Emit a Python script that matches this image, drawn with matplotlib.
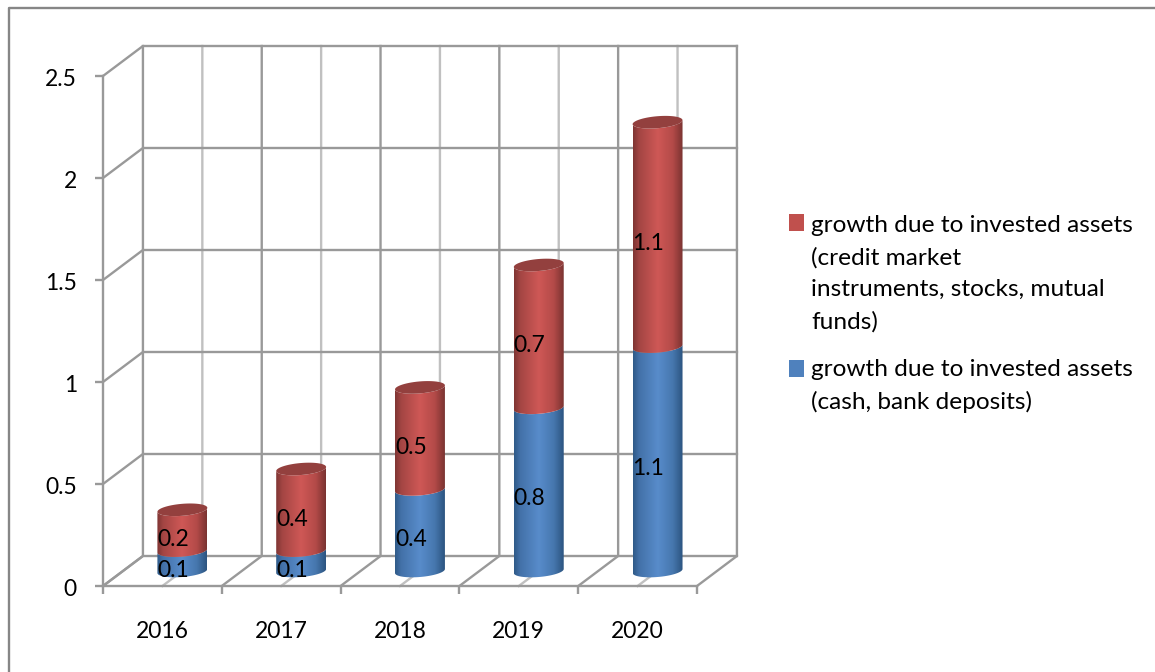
#!/usr/bin/env python
#-*- coding:utf-8 -*-
import numpy as np
from matplotlib import pyplot as plt
from matplotlib.colors import LinearSegmentedColormap
from matplotlib.lines import Line2D
from matplotlib.patches import Patch, PathPatch, Polygon
from matplotlib.path import Path
from matplotlib.transforms import ScaledTranslation

years = ['2016', '2017', '2018', '2019', '2020']
cash_values = [0.1, 0.1, 0.4, 0.8, 1.1]
invested_values = [0.2, 0.4, 0.5, 0.7, 1.1]
value_ticks = [0, 0.5, 1, 1.5, 2, 2.5]
value_tick_labels = ['0', '0.5', '1', '1.5', '2', '2.5']
invested_label = 'growth due to invested assets\n(credit market\ninstruments, stocks, mutual\nfunds)'
cash_label = 'growth due to invested assets\n(cash, bank deposits)'

W, H = 1155, 672
# front plane of the fake 3d box, in pixels
LEFT, RIGHT, BOTTOM, TOP = 103, 697, 586, 76
# how far the back wall is shifted from the front plane, in data units
DEPTH_X = 40.0 / 119
DEPTH_Y = 30.0 / 204
BAR_A = 25.0 / 119
BAR_B = 6.0 / 204
BAR_TILT = 2.0 / 204

WALL = '#999999'
WALL_LIGHT = '#c0c0c0'
FRAME = '#868686'
LW = 1.7
FS = 16.5
LEGEND_FS = 17.6

plt.rcParams['font.family'] = ['Lato', 'DejaVu Sans']


def draw_wall(ax):
    n = len(years)
    top = value_ticks[-1]
    for v in value_ticks:
        # side wall then back wall
        ax.plot([0, DEPTH_X, n + DEPTH_X], [v, v + DEPTH_Y, v + DEPTH_Y],
                color=WALL, lw=LW, zorder=2, clip_on=False)
    for i in range(n):
        mid = i + 0.5
        ax.plot([mid, mid + DEPTH_X, mid + DEPTH_X], [0, DEPTH_Y, top + DEPTH_Y],
                color=WALL_LIGHT, lw=LW, zorder=1, clip_on=False)
    for i in range(n + 1):
        ax.plot([i, i + DEPTH_X, i + DEPTH_X], [0, DEPTH_Y, top + DEPTH_Y],
                color=WALL, lw=LW, zorder=2, clip_on=False)


def arc(xc, yc, start, end):
    t = np.linspace(start, end, 60)
    return np.column_stack([xc + BAR_A * np.cos(t),
                            yc + BAR_B * np.sin(t) + BAR_TILT * np.cos(t)])


def draw_segment(ax, xc, y0, y1, cmap, z):
    lower = arc(xc, y0, np.pi, 2 * np.pi)
    upper = arc(xc, y1, 2 * np.pi, np.pi)
    verts = np.vstack([lower, upper, lower[:1]])
    clip = PathPatch(Path(verts), transform=ax.transData)
    grad = np.linspace(0, 1, 128).reshape(1, -1)
    im = ax.imshow(grad, cmap=cmap, aspect='auto', zorder=z, clip_on=True,
                   extent=[xc - BAR_A, xc + BAR_A, y0 - 2 * BAR_B, y1 + 2 * BAR_B])
    im.set_clip_path(clip)


fig = plt.figure(figsize=(W / 100.0, H / 100.0), dpi=100)
ax = fig.add_axes([LEFT / W, 1 - BOTTOM / H, (RIGHT - LEFT) / W, (BOTTOM - TOP) / H])
ax.patch.set_visible(False)

draw_wall(ax)

blue_map = LinearSegmentedColormap.from_list('blue_side', [
    (0, '#2f5a88'), (0.12, '#4371a8'), (0.5, '#588ccb'), (0.8, '#4677ae'), (1, '#2c5480')])
red_map = LinearSegmentedColormap.from_list('red_side', [
    (0, '#7f3533'), (0.12, '#a34543'), (0.5, '#cf5856'), (0.8, '#b34a48'), (1, '#7a3331')])

for i in range(len(years)):
    xc = i + 0.5 + DEPTH_X / 2
    base = DEPTH_Y / 2
    c = cash_values[i]
    v = invested_values[i]
    draw_segment(ax, xc, base, base + c, blue_map, 3)
    draw_segment(ax, xc, base + c, base + c + v, red_map, 3)
    cap = arc(xc, base + c + v, 0, 2 * np.pi)
    ax.add_patch(Polygon(cap, closed=True, fc='#93403e', ec='none', zorder=4))
    # value labels sit a little left of and below the segment middle
    ax.annotate('%.1f' % c, (xc, base + c / 2.0), xytext=(-6.5, -6.8),
                textcoords='offset points', ha='center', va='center',
                fontsize=FS, color='black', zorder=5)
    ax.annotate('%.1f' % v, (xc, base + c + v / 2.0), xytext=(-6.5, -6.8),
                textcoords='offset points', ha='center', va='center',
                fontsize=FS, color='black', zorder=5)

ax.set_xlim(0, len(years))
ax.set_ylim(0, value_ticks[-1])

for side in ['top', 'right']:
    ax.spines[side].set_visible(False)
for side in ['left', 'bottom']:
    ax.spines[side].set_color(WALL)
    ax.spines[side].set_linewidth(LW)
    ax.spines[side].set_zorder(2)

ax.set_yticks(value_ticks)
ax.set_yticklabels(value_tick_labels, fontsize=FS, color='black')
ax.tick_params(axis='y', length=5.8, width=LW, color=WALL, pad=13)
shift = ScaledTranslation(0, -2.0 / 100, fig.dpi_scale_trans)
for label in ax.get_yticklabels():
    label.set_transform(label.get_transform() + shift)
ax.set_xticks(np.arange(len(years) + 1))
ax.set_xticklabels([])
ax.set_xticks(np.arange(len(years)) + 0.5, minor=True)
ax.set_xticklabels(years, minor=True, fontsize=FS, color='black')
ax.tick_params(axis='x', which='major', length=6, width=LW, color=WALL)
ax.tick_params(axis='x', which='minor', length=0, pad=25)

handles = [Patch(fc='#c0504d', ec='none'), Patch(fc='#4f81bd', ec='none')]
leg = fig.legend(handles, [invested_label, cash_label], loc='upper left',
                 bbox_to_anchor=(789.0 / W, 1 - 215.0 / H), borderpad=0, borderaxespad=0,
                 frameon=False, fontsize=LEGEND_FS, labelspacing=1.08,
                 handlelength=0.61, handleheight=0.68, handletextpad=0.3)
for t in leg.get_texts():
    t.set_linespacing(1.62)
# squares line up with the first line of their entry
leg.legend_handles[0].set_y(leg.legend_handles[0].get_y() + 37)
leg.legend_handles[1].set_y(leg.legend_handles[1].get_y() + 12.6)

# outer chart border, its right and bottom sides fall off the canvas
fig.add_artist(Line2D([9.0 / W, 9.0 / W, 1], [0, 1 - 8.0 / H, 1 - 8.0 / H],
                      color=FRAME, lw=LW, transform=fig.transFigure))

fig.savefig('out.png', dpi=100)
